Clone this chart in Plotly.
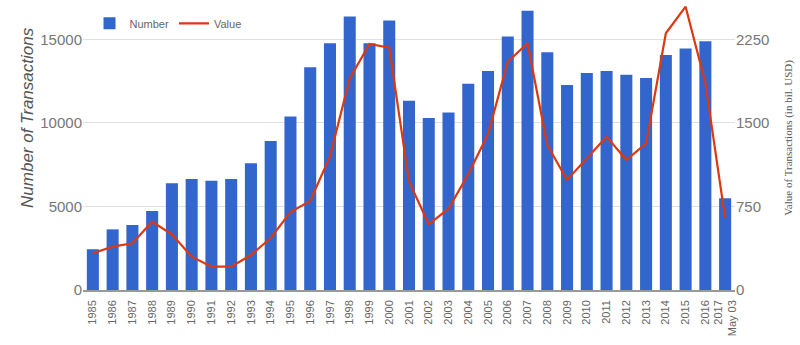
import plotly.graph_objects as go

years = [str(y) for y in range(1985, 2017)] + ["2017<br>May 03"]
number = [2440, 3630, 3890, 4730, 6390, 6640, 6540, 6640, 7590, 8920,
          10380, 13330, 14770, 16370, 14770, 16130, 11330, 10300, 10620, 12350,
          13110, 15170, 16710, 14230, 12270, 12990, 13110, 12890, 12690, 14070,
          14450, 14890, 5490]
value = [330, 389, 419, 613, 500, 299, 209, 209, 314, 467,
         700, 800, 1200, 1900, 2209, 2176, 975, 590, 730, 1040,
         1400, 2050, 2215, 1302, 988, 1183, 1377, 1167, 1317, 2305,
         2544, 1860, 646]
left_ticks = [0, 5000, 10000, 15000]
left_labels = ["0", "5000", "10000", "15000"]
right_ticks = [0, 750, 1500, 2250]
right_labels = ["0", "750", "1500", "2250"]

font = "Arial, Liberation Sans, sans-serif"

fig = go.Figure()
fig.add_trace(go.Bar(x=years, y=number, name="Number", marker_color="#3366CC",
                     marker_line_width=0))
fig.add_trace(go.Scatter(x=years, y=value, name="Value", yaxis="y2", mode="lines",
                         line=dict(color="#DC3912", width=2.2)))

fig.update_layout(
    width=800, height=345,
    margin=dict(l=83, r=65, t=6, b=55),
    paper_bgcolor="white", plot_bgcolor="white",
    bargap=0.39,
    font=dict(family=font, color="#666666"),
    showlegend=True,
    legend=dict(orientation="h", x=0.01, y=0.99, xanchor="left", yanchor="top",
                font=dict(size=11, color="#666666"), bgcolor="rgba(0,0,0,0)",
                itemwidth=30),
    xaxis=dict(type="category", tickangle=-90, tickfont=dict(size=11, color="#666666"),
               showline=True, linecolor="#999999", linewidth=1.5, ticks="",
               showgrid=False, ticklabelstandoff=4),
    yaxis=dict(range=[0, 17000], tickvals=left_ticks, ticktext=left_labels,
               tickfont=dict(size=15, color="#777777"),
               showgrid=True, gridcolor="#e0e0e0", zeroline=False, ticks="", ticklen=0),
    yaxis2=dict(range=[0, 2550], tickvals=right_ticks, ticktext=right_labels,
                overlaying="y", side="right",
                tickfont=dict(size=15, color="#777777"), showgrid=False, zeroline=False),
    annotations=[
        dict(text="<i>Number of Transactions</i>", xref="paper", yref="paper",
             x=-0.086, y=0.609, xanchor="center", yanchor="middle",
             textangle=-90, showarrow=False,
             font=dict(size=17, color="#555555", family=font)),
        dict(text="Value of Transactions (in bil. USD)", xref="paper", yref="paper",
             x=1.081, y=0.535, xanchor="center", yanchor="middle",
             textangle=-90, showarrow=False,
             font=dict(size=11, color="#555555", family="Liberation Serif, Times New Roman, serif")),
    ],
)

fig.write_html("out.html")
